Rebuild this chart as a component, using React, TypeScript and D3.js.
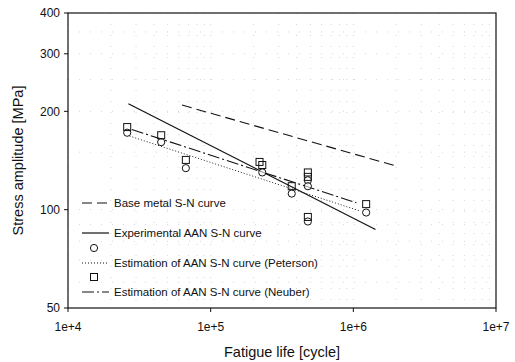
import { useMemo } from "react";
import * as d3 from "d3";

// ---------------------------------------------------------------------------
// Data
// ---------------------------------------------------------------------------

const X_TICKS = [1e4, 1e5, 1e6, 1e7];
const X_TICK_LABELS = ["1e+4", "1e+5", "1e+6", "1e+7"];
const Y_TICKS = [50, 100, 200, 300, 400];

// experimental AAN data, circle markers
const CIRCLE_N = [2.6e4, 4.5e4, 6.7e4, 2.3e5, 3.7e5, 4.8e5, 4.8e5, 4.8e5, 1.23e6];
const CIRCLE_S = [172, 161, 134, 130, 112, 123, 118, 92, 98];

// square markers
const SQUARE_N = [2.6e4, 4.5e4, 6.7e4, 2.2e5, 2.3e5, 3.7e5, 4.8e5, 4.8e5, 4.8e5, 1.23e6];
const SQUARE_S = [179, 169, 142, 140, 137, 118, 130, 126, 95, 104];

// S-N curves (end points)
const BASE_N = [6.3e4, 2e6];
const BASE_S = [209, 136];
const EXP_N = [2.65e4, 1.43e6];
const EXP_S = [211, 87];
const PETERSON_N = [2.7e4, 1.12e6];
const PETERSON_S = [168, 99];
const NEUBER_N = [2.8e4, 1.05e6];
const NEUBER_S = [176, 105];

const LEGEND = [
  "Base metal S-N curve",
  "Experimental AAN S-N curve",
  "Estimation of AAN S-N curve (Peterson)",
  "Estimation of AAN S-N curve (Neuber)",
];

// ---------------------------------------------------------------------------
// Layout / style
// ---------------------------------------------------------------------------

const W = 515;
const H = 362;
const PLOT = { left: 68, right: 496, top: 13, bottom: 308 };
const FONT = "'Liberation Sans', Arial, sans-serif";
const GRID = "#c4c4c4";

const STYLE = {
  base: { dash: "10,5", width: 1.1 },
  exp: { dash: undefined, width: 1.2 },
  peterson: { dash: "1,2", width: 1 },
  neuber: { dash: "12,3,2,3", width: 1.1 },
};

export default function App() {
  const x = useMemo(
    () => d3.scaleLog().domain([1e4, 1e7]).range([PLOT.left, PLOT.right]),
    [],
  );
  const y = useMemo(
    () => d3.scaleLog().domain([50, 400]).range([PLOT.bottom, PLOT.top]),
    [],
  );

  const line = d3
    .line<[number, number]>()
    .x((d) => x(d[0]))
    .y((d) => y(d[1]));

  const pairs = (n: number[], s: number[]) =>
    n.map((v, i) => [v, s[i]] as [number, number]);

  // minor grid positions
  const xGrid: number[] = [];
  for (let dec = 1e4; dec < 1e7; dec *= 10)
    for (let k = 1; k < 10; k++) xGrid.push(dec * k);
  const yGrid = [60, 70, 80, 90, 100, 150, 200, 250, 300, 350];

  const legendRowsY = [203, 233, 263, 292];
  const legendKeys = ["base", "exp", "peterson", "neuber"] as const;

  return (
    <div style={{ position: "absolute", left: 0, top: 0 }}>
      <svg width={W} height={H} style={{ display: "block", background: "#fff" }}>
        {/* grid */}
        {xGrid.map((g) => (
          <line
            key={`gx${g}`}
            x1={x(g)}
            x2={x(g)}
            y1={PLOT.top}
            y2={PLOT.bottom}
            stroke={GRID}
            strokeWidth={0.7}
            strokeDasharray="1,10"
          />
        ))}
        {yGrid.map((g) => (
          <line
            key={`gy${g}`}
            x1={PLOT.left}
            x2={PLOT.right}
            y1={y(g)}
            y2={y(g)}
            stroke={GRID}
            strokeWidth={0.7}
            strokeDasharray="1,10"
          />
        ))}

        {/* frame */}
        <rect
          x={PLOT.left}
          y={PLOT.top}
          width={PLOT.right - PLOT.left}
          height={PLOT.bottom - PLOT.top}
          fill="none"
          stroke="#111"
          strokeWidth={1.2}
        />

        {/* y ticks */}
        {Y_TICKS.map((t) => (
          <g key={`yt${t}`}>
            <line x1={PLOT.left - 4} x2={PLOT.left} y1={y(t)} y2={y(t)} stroke="#111" />
            <text
              x={PLOT.left - 8}
              y={y(t)}
              dy="0.35em"
              textAnchor="end"
              fontSize={12}
              fontFamily={FONT}
              fill="#111"
            >
              {t}
            </text>
          </g>
        ))}

        {/* x ticks */}
        {X_TICKS.map((t, i) => (
          <g key={`xt${t}`}>
            <line x1={x(t)} x2={x(t)} y1={PLOT.bottom} y2={PLOT.bottom + 4} stroke="#111" />
            <text
              x={x(t)}
              y={PLOT.bottom + 23}
              textAnchor="middle"
              fontSize={12}
              fontFamily={FONT}
              fill="#111"
            >
              {X_TICK_LABELS[i]}
            </text>
          </g>
        ))}

        {/* axis titles */}
        <text
          x={(PLOT.left + PLOT.right) / 2}
          y={357}
          textAnchor="middle"
          fontSize={14.5}
          fontFamily={FONT}
          fill="#111"
        >
          Fatigue life [cycle]
        </text>
        <text
          transform={`translate(23,${(PLOT.top + PLOT.bottom) / 2}) rotate(-90)`}
          textAnchor="middle"
          fontSize={14.5}
          fontFamily={FONT}
          fill="#111"
        >
          Stress amplitude [MPa]
        </text>

        {/* curves */}
        <path d={line(pairs(BASE_N, BASE_S)) ?? ""} fill="none" stroke="#111"
          strokeWidth={STYLE.base.width} strokeDasharray={STYLE.base.dash} />
        <path d={line(pairs(PETERSON_N, PETERSON_S)) ?? ""} fill="none" stroke="#222"
          strokeWidth={STYLE.peterson.width} strokeDasharray={STYLE.peterson.dash} />
        <path d={line(pairs(NEUBER_N, NEUBER_S)) ?? ""} fill="none" stroke="#111"
          strokeWidth={STYLE.neuber.width} strokeDasharray={STYLE.neuber.dash} />
        <path d={line(pairs(EXP_N, EXP_S)) ?? ""} fill="none" stroke="#111"
          strokeWidth={STYLE.exp.width} />

        {/* markers */}
        {CIRCLE_N.map((n, i) => (
          <circle key={`c${i}`} cx={x(n)} cy={y(CIRCLE_S[i])} r={3.6}
            fill="#fff" fillOpacity={0.6} stroke="#111" strokeWidth={1} />
        ))}
        {SQUARE_N.map((n, i) => (
          <rect key={`s${i}`} x={x(n) - 3.5} y={y(SQUARE_S[i]) - 3.5} width={7} height={7}
            fill="none" stroke="#111" strokeWidth={1} />
        ))}

        {/* legend */}
        {legendKeys.map((k, i) => (
          <g key={k}>
            <line x1={82} x2={109} y1={legendRowsY[i]} y2={legendRowsY[i]} stroke="#111"
              strokeWidth={STYLE[k].width} strokeDasharray={STYLE[k].dash} />
            <text x={114} y={legendRowsY[i]} dy="0.35em" fontSize={11.5}
              fontFamily={FONT} fill="#111">
              {LEGEND[i]}
            </text>
          </g>
        ))}
        <circle cx={94} cy={248} r={3.6} fill="#fff" stroke="#111" />
        <rect x={90.5} y={273.5} width={7} height={7} fill="none" stroke="#111" />
      </svg>
    </div>
  );
}
